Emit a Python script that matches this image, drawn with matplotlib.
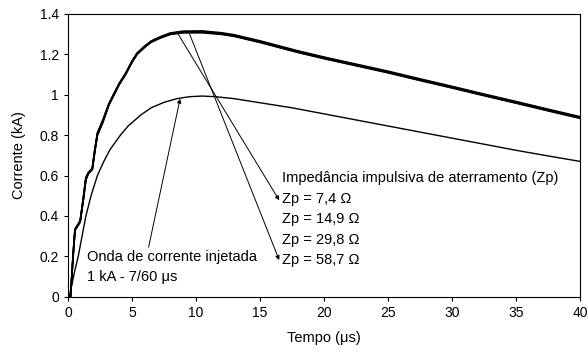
import matplotlib
matplotlib.use("Agg")
import matplotlib.pyplot as plt

plt.rcParams['font.family'] = ['Liberation Sans', 'DejaVu Sans']

# injected current wave 1 kA - 7/60 us
t_inj = [0.1, 0.3, 0.5, 0.8, 1.1, 1.4, 1.8, 2.3, 2.8, 3.3, 4.1, 4.7, 5.7, 6.5, 7.5, 8.5, 9.5, 10.5,
         11.5, 13, 15, 17.5, 20, 22.5, 25, 27.5, 30, 32.5, 35, 37.5, 40]
i_inj = [0, 0.06, 0.12, 0.2, 0.3, 0.4, 0.5, 0.6, 0.67, 0.73, 0.8, 0.845, 0.9, 0.935, 0.962, 0.98, 0.99, 0.993,
         0.99, 0.98, 0.96, 0.935, 0.905, 0.875, 0.845, 0.815, 0.785, 0.755, 0.725, 0.697, 0.67]

# tower currents for each Zp
t_zp = [0.2, 0.4, 0.55, 0.95, 1.2, 1.4, 1.6, 1.9, 2.1, 2.3, 2.7, 3.2, 3.6, 4.0, 4.5, 5.0, 5.4, 6.0, 6.5,
        7.2, 8, 9, 10.5, 12, 13, 15, 18, 20, 22.5, 25, 27.5, 30, 32.5, 35, 37.5, 40]
i_zp1 = [0, 0.2, 0.33, 0.37, 0.48, 0.58, 0.61, 0.63, 0.72, 0.8, 0.86, 0.95, 1.0, 1.05, 1.1, 1.16, 1.2, 1.235, 1.26,
         1.28, 1.298, 1.306, 1.306, 1.298, 1.288, 1.258, 1.208, 1.178, 1.143, 1.108, 1.07, 1.033, 0.995, 0.958, 0.92, 0.883]
i_zp2 = [0, 0.2, 0.33, 0.37, 0.48, 0.58, 0.61, 0.63, 0.72, 0.8, 0.86, 0.95, 1.0, 1.05, 1.1, 1.16, 1.2, 1.235, 1.26,
         1.28, 1.3, 1.308, 1.309, 1.3, 1.29, 1.26, 1.21, 1.18, 1.145, 1.11, 1.072, 1.035, 0.997, 0.96, 0.922, 0.885]
i_zp3 = [0, 0.21, 0.335, 0.375, 0.49, 0.59, 0.615, 0.635, 0.73, 0.81, 0.87, 0.955, 1.005, 1.055, 1.105, 1.165, 1.205, 1.24, 1.264,
         1.284, 1.303, 1.311, 1.312, 1.303, 1.293, 1.263, 1.213, 1.183, 1.148, 1.113, 1.075, 1.038, 1.0, 0.963, 0.925, 0.888]
i_zp4 = [0, 0.21, 0.335, 0.375, 0.49, 0.59, 0.615, 0.635, 0.73, 0.81, 0.87, 0.955, 1.005, 1.055, 1.105, 1.165, 1.205, 1.24, 1.265,
         1.286, 1.305, 1.314, 1.315, 1.306, 1.296, 1.266, 1.216, 1.186, 1.151, 1.116, 1.078, 1.041, 1.003, 0.966, 0.928, 0.891]

zp_labels = ["Zp = 7,4 \u03a9", "Zp = 14,9 \u03a9", "Zp = 29,8 \u03a9", "Zp = 58,7 \u03a9"]

fig = plt.figure(figsize=(5.88, 3.53), dpi=100)
ax = fig.add_axes([0.1156, 0.159, 0.8708, 0.802])

ax.plot(t_inj, i_inj, color="black", linewidth=1.0)
for ii in [i_zp1, i_zp2, i_zp3, i_zp4]:
    ax.plot(t_zp, ii, color="black", linewidth=1.2)

ax.set_xlim(0, 40)
ax.set_ylim(0, 1.4)
ax.set_xticks(range(0, 41, 5))
ax.set_yticks([0, 0.2, 0.4, 0.6, 0.8, 1.0, 1.2, 1.4])
ax.set_yticklabels(["0", "0.2", "0.4", "0.6", "0.8", "1", "1.2", "1.4"])
ax.tick_params(direction="out", length=3, labelsize=10)
ax.set_xlabel("Tempo (\u03bcs)", fontsize=10.5, labelpad=8)
ax.set_ylabel("Corrente (kA)", fontsize=10.5, labelpad=10)

# annotations
fs = 10.5
ax.text(16.7, 0.586, "Impedância impulsiva de aterramento (Zp)", fontsize=fs, va="center")
for k, lab in enumerate(zp_labels):
    ax.text(16.7, 0.483 - k * 0.1, lab, fontsize=fs, va="center")

arrow = dict(arrowstyle="-|>", color="black", lw=0.7, mutation_scale=6, shrinkA=0, shrinkB=0)
ax.annotate("", xy=(16.5, 0.478), xytext=(8.6, 1.30), arrowprops=arrow)
ax.annotate("", xy=(16.5, 0.182), xytext=(9.5, 1.30), arrowprops=arrow)

ax.text(1.5, 0.197, "Onda de corrente injetada", fontsize=fs, va="center")
ax.text(1.5, 0.099, "1 kA - 7/60 \u03bcs", fontsize=fs, va="center")
ax.annotate("", xy=(8.76, 0.98), xytext=(6.3, 0.246), arrowprops=arrow)

fig.savefig("out.png", dpi=100)
